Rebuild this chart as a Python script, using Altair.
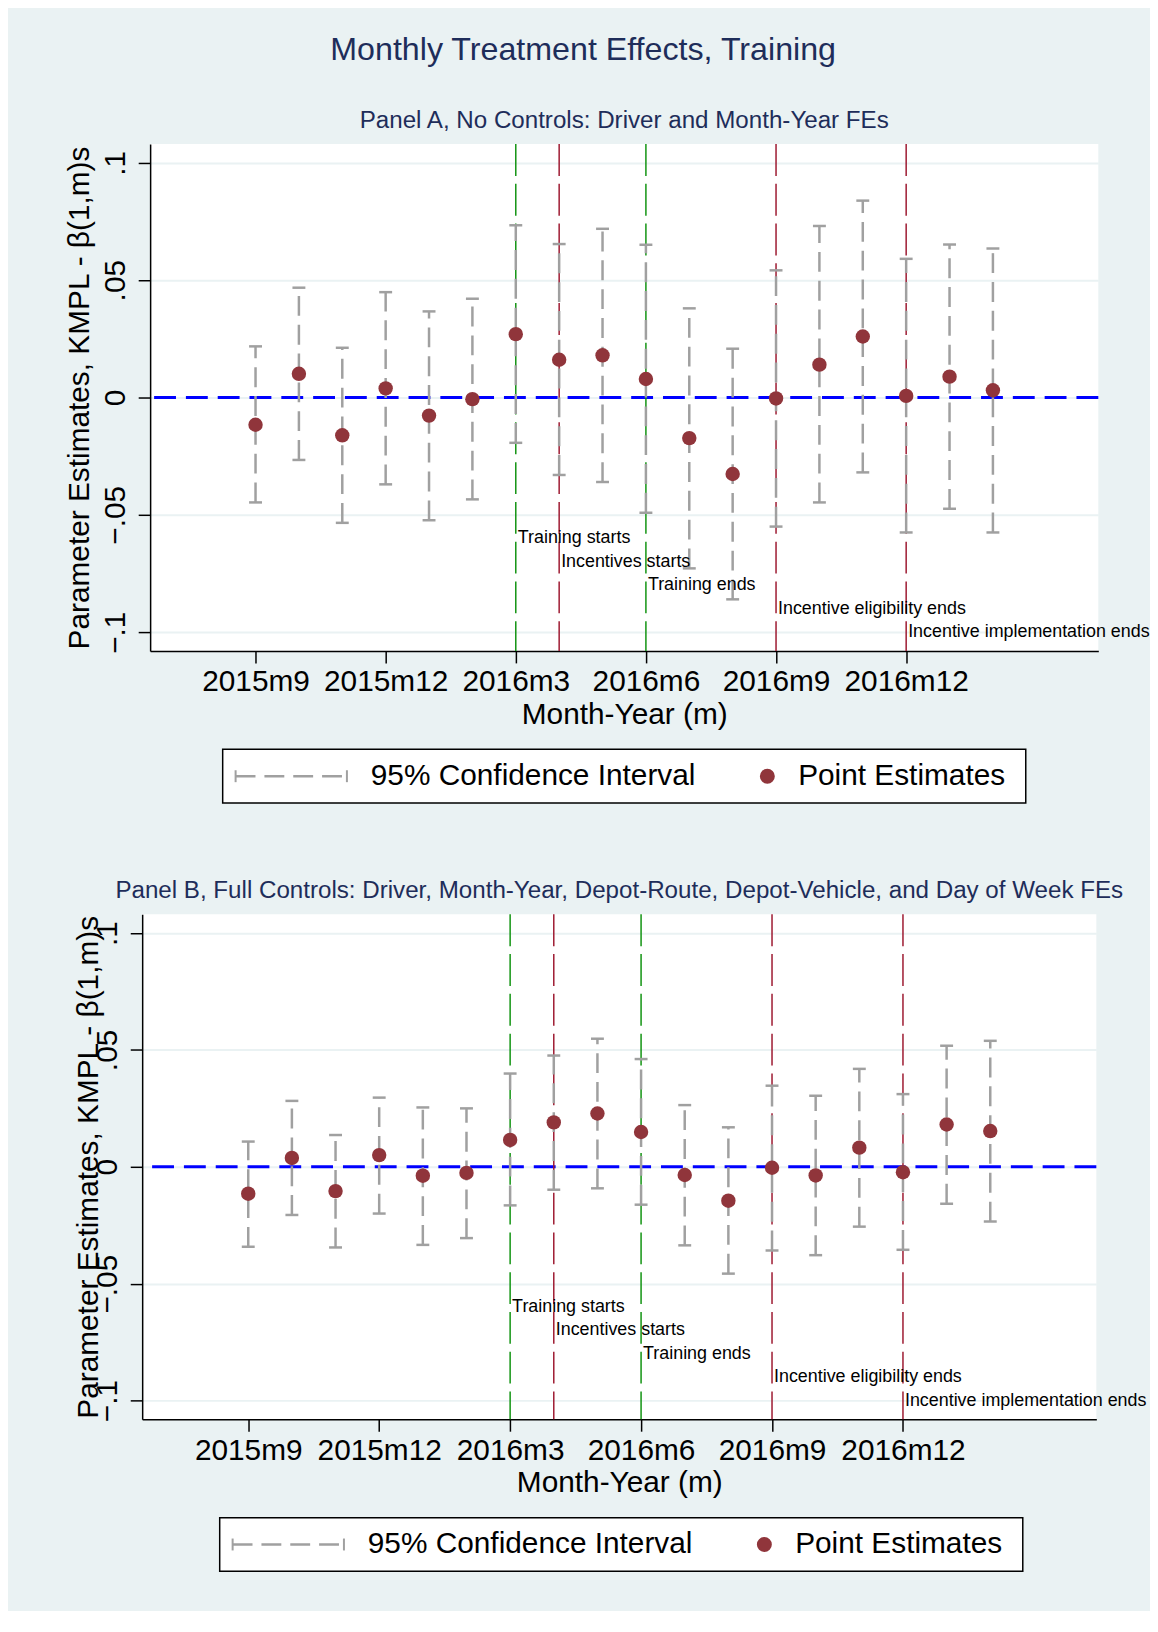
import altair as alt
import pandas as pd

# ---------------- data ----------------
months = ["2015m9", "2015m10", "2015m11", "2015m12", "2016m1", "2016m2",
          "2016m3", "2016m4", "2016m5", "2016m6", "2016m7", "2016m8",
          "2016m9", "2016m10", "2016m11", "2016m12", "2017m1", "2017m2"]

a_est = [-0.0116, 0.0101, -0.0161, 0.0039, -0.0077, -0.0007, 0.0270, 0.0161, 0.0180,
         0.0079, -0.0173, -0.0326, -0.0004, 0.0140, 0.0260, 0.0007, 0.0089, 0.0031]
a_lo = [-0.0447, -0.0266, -0.0534, -0.0370, -0.0523, -0.0434, -0.0193, -0.0330, -0.0360,
        -0.0491, -0.0728, -0.0860, -0.0550, -0.0447, -0.0319, -0.0575, -0.0474, -0.0575]
a_hi = [0.0218, 0.0468, 0.0212, 0.0449, 0.0367, 0.0421, 0.0734, 0.0654, 0.0719,
        0.0651, 0.0380, 0.0208, 0.0542, 0.0731, 0.0839, 0.0591, 0.0652, 0.0635]

b_est = [-0.0115, 0.0038, -0.0104, 0.0050, -0.0038, -0.0026, 0.0115, 0.0190, 0.0228,
         0.0149, -0.0035, -0.0145, -0.0004, -0.0037, 0.0082, -0.0023, 0.0181, 0.0153]
b_lo = [-0.0342, -0.0206, -0.0345, -0.0200, -0.0334, -0.0305, -0.0165, -0.0098, -0.0092,
        -0.0162, -0.0336, -0.0457, -0.0358, -0.0378, -0.0256, -0.0355, -0.0158, -0.0234]
b_hi = [0.0108, 0.0282, 0.0136, 0.0296, 0.0254, 0.0250, 0.0399, 0.0476, 0.0548,
        0.0461, 0.0264, 0.0169, 0.0347, 0.0304, 0.0419, 0.0311, 0.0518, 0.0539]

event_months = ["2016m3", "2016m4", "2016m6", "2016m9", "2016m12"]
event_labels = ["Training starts", "Incentives starts", "Training ends",
                "Incentive eligibility ends", "Incentive implementation ends"]
event_kinds = ["training", "incentive", "training", "incentive", "incentive"]
event_label_y = [-0.06, -0.07, -0.08, -0.09, -0.10]

x_tick_months = ["2015m9", "2015m12", "2016m3", "2016m6", "2016m9", "2016m12"]
y_ticks = [-0.1, -0.05, 0, 0.05, 0.1]

TITLE = "Monthly Treatment Effects, Training"
SUB_A = "Panel A, No Controls: Driver and Month-Year FEs"
SUB_B = ("Panel B, Full Controls: Driver, Month-Year, Depot-Route, "
         "Depot-Vehicle, and Day of Week FEs")
Y_TITLE = "Parameter Estimates, KMPL -  \u03b2(1,m)s"

# ---------------- styles ----------------
FONT = "Liberation Sans"
BG = "#EAF2F3"
NAVY = "#1E2D5A"
MAROON = "#90353B"
GRAY = "#A0A0A0"
GREEN = "#139413"
RED = "#9E1B32"
BLUE = "#0000FF"

label_js = "[" + ",".join('"%s"' % m for m in months) + "]"
one = pd.DataFrame({"k": [0]})


def panel(est, lo, hi, subtitle, width, height, title_x, left_extent, lx, sub_offset):
    df = pd.DataFrame({"m": list(range(len(months))), "month": months,
                       "est": est, "lo": lo, "hi": hi})
    ev = pd.DataFrame({"m": [months.index(e) for e in event_months],
                       "text": event_labels, "kind": event_kinds,
                       "ty": event_label_y})
    zero = pd.DataFrame({"y": [0.0]})

    xs = alt.Scale(domain=[-2.43, 19.43], nice=False, zero=False)
    ys = alt.Scale(domain=[-0.108, 0.108], nice=False, zero=False)

    x_axis = alt.Axis(
        values=[months.index(m) for m in x_tick_months],
        labelExpr=label_js + "[datum.value]",
        title="Month-Year (m)", grid=False, labelPadding=4, titlePadding=3,
    )
    y_axis = alt.Axis(
        values=y_ticks,
        labelExpr="replace(format(datum.value, '.2~f'), '0.', '.')",
        title=Y_TITLE, grid=True, gridColor=BG, gridWidth=2,
        labelAngle=270, labelAlign="center", labelBaseline="bottom",
        labelPadding=8, titleX=title_x, titleBaseline="middle",
        titleAngle=270,
    )

    zline = alt.Chart(zero).mark_rule(color=BLUE, strokeWidth=3, strokeDash=[22, 10]).encode(
        y=alt.Y("y:Q", scale=ys, axis=y_axis)
    )
    vlines = alt.Chart(ev).mark_rule(strokeWidth=1.5, strokeDash=[32, 8]).encode(
        x=alt.X("m:Q", scale=xs, axis=x_axis),
        color=alt.Color("kind:N", scale=alt.Scale(domain=["training", "incentive"],
                                                   range=[GREEN, RED]), legend=None),
    )
    ci = alt.Chart(df).mark_rule(color=GRAY, strokeWidth=2.5, strokeDash=[20, 9]).encode(
        x=alt.X("m:Q", scale=xs, axis=x_axis),
        y=alt.Y("lo:Q", scale=ys, axis=y_axis), y2="hi:Q"
    )
    cap_lo = alt.Chart(df).mark_tick(color=GRAY, orient="horizontal", size=13,
                                     thickness=2.5, opacity=1).encode(
        x=alt.X("m:Q", scale=xs), y=alt.Y("lo:Q", scale=ys)
    )
    cap_hi = alt.Chart(df).mark_tick(color=GRAY, orient="horizontal", size=13,
                                     thickness=2.5, opacity=1).encode(
        x=alt.X("m:Q", scale=xs), y=alt.Y("hi:Q", scale=ys)
    )
    pts = alt.Chart(df).mark_circle(color=MAROON, size=210, opacity=1).encode(
        x=alt.X("m:Q", scale=xs), y=alt.Y("est:Q", scale=ys)
    )
    ev_text = alt.Chart(ev).mark_text(align="left", baseline="middle", dx=2,
                                      fontSize=18, color="black", font=FONT).encode(
        x=alt.X("m:Q", scale=xs), y=alt.Y("ty:Q", scale=ys), text="text:N"
    )

    # background-coloured anchor fixing the left extent of the panel
    anchor = alt.Chart(one).mark_point(size=1, color=BG, filled=True, opacity=1).encode(
        x=alt.value(-left_extent), y=alt.value(height / 2)
    )

    # legend box below the panel
    ly = height + 126
    leg_box = alt.Chart(one).mark_rect(fill="white", stroke="black", strokeWidth=1.5).encode(
        x=alt.value(lx), x2=alt.value(lx + 808), y=alt.value(height + 99),
        y2=alt.value(height + 153)
    )
    leg_line = alt.Chart(one).mark_rule(color=GRAY, strokeWidth=2.5, strokeDash=[20, 9]).encode(
        x=alt.value(lx + 13), x2=alt.value(lx + 125), y=alt.value(ly)
    )
    leg_cap1 = alt.Chart(one).mark_rule(color=GRAY, strokeWidth=2).encode(
        x=alt.value(lx + 13), y=alt.value(ly - 6), y2=alt.value(ly + 6)
    )
    leg_cap2 = alt.Chart(one).mark_rule(color=GRAY, strokeWidth=2).encode(
        x=alt.value(lx + 125), y=alt.value(ly - 6), y2=alt.value(ly + 6)
    )
    leg_t1 = alt.Chart(one).mark_text(align="left", baseline="middle", fontSize=30,
                                      color="black", font=FONT).encode(
        x=alt.value(lx + 149), y=alt.value(ly), text=alt.value("95% Confidence Interval")
    )
    leg_pt = alt.Chart(one).mark_circle(color=MAROON, size=227, opacity=1).encode(
        x=alt.value(lx + 548), y=alt.value(ly)
    )
    leg_t2 = alt.Chart(one).mark_text(align="left", baseline="middle", fontSize=30,
                                      color="black", font=FONT).encode(
        x=alt.value(lx + 579), y=alt.value(ly), text=alt.value("Point Estimates")
    )

    return alt.layer(
        anchor, zline, vlines, ci, cap_lo, cap_hi, pts, ev_text,
        leg_box, leg_line, leg_cap1, leg_cap2, leg_t1, leg_pt, leg_t2,
    ).properties(
        width=width, height=height,
        title=alt.Title(subtitle, fontSize=24.3, color=NAVY, fontWeight="normal",
                        anchor="middle", frame="group", offset=sub_offset, font=FONT),
    )


def spacer():
    return alt.Chart(one).mark_point(size=1, color=BG, filled=True, opacity=1).encode(
        x=alt.value(0), y=alt.value(0)
    ).properties(width=1, height=1, view=alt.ViewBackground(fill=BG, stroke=None))


pa = panel(a_est, a_lo, a_hi, SUB_A, 954, 510, -71, 100, 73, 8)
pb = panel(b_est, b_lo, b_hi, SUB_B, 960, 508, -54, 92, 78, 7)

row_a = alt.hconcat(spacer(), pa, spacing=0)
row_b = alt.hconcat(spacer(), pb, spacing=0)

chart = alt.vconcat(row_a, row_b, spacing=75).properties(
    title=alt.Title(TITLE, fontSize=32.4, color=NAVY, fontWeight="normal",
                    anchor="middle", offset=43, dx=-16, font=FONT),
    padding={"top": 21, "left": 40, "right": 0, "bottom": 34},
).configure(
    background=BG, font=FONT,
).configure_view(
    fill="white", stroke=None,
).configure_axis(
    domainColor="black", domainWidth=1.5, tickColor="black", tickWidth=1.5,
    tickSize=12, labelFontSize=30, labelColor="black", labelFont=FONT,
    titleFontSize=30, titleFontWeight="normal", titleColor="black", titleFont=FONT,
    labelFlush=False, labelOverlap=False,
)

chart.save("out.html", embed_options={"renderer": "svg", "actions": False})
